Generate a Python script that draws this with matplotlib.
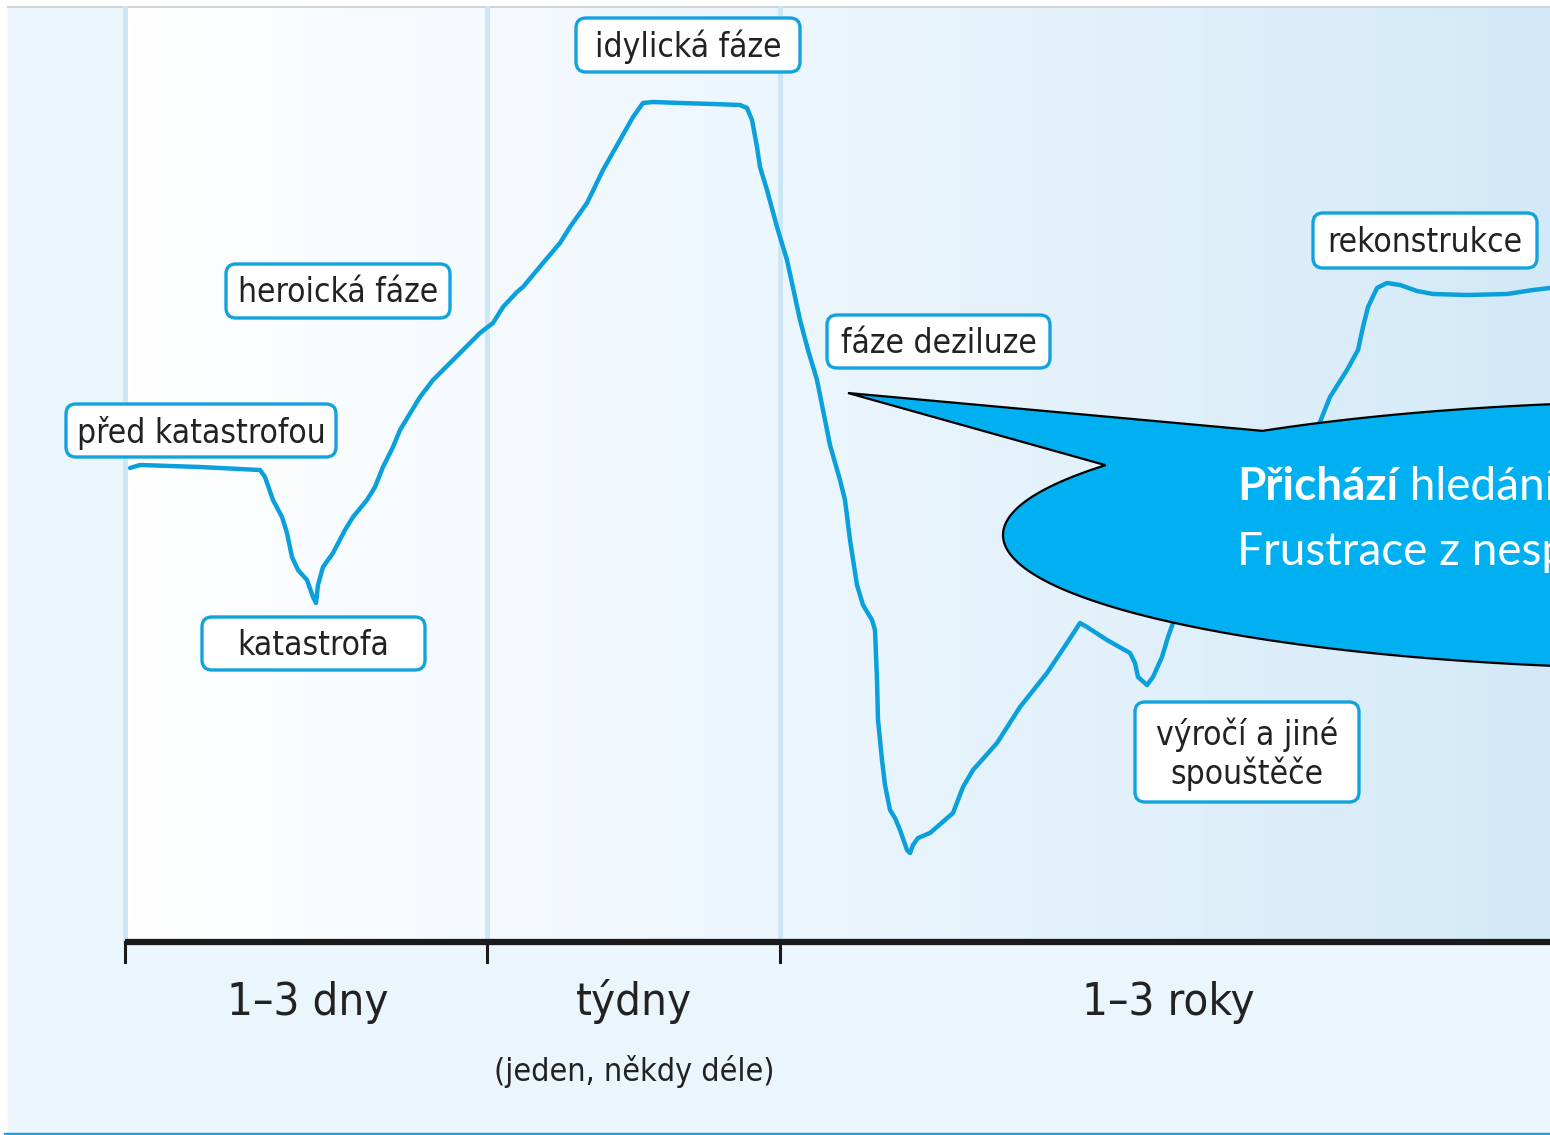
import numpy as np
import matplotlib
matplotlib.use("Agg")
import matplotlib.pyplot as plt
from matplotlib import font_manager
from matplotlib.patches import FancyBboxPatch, Rectangle, Polygon
from matplotlib.colors import LinearSegmentedColormap

# hand-drawn curve, traced in picture pixels (x right, y down)
curve_x = [130, 140, 200, 260, 265, 273, 282, 287, 292, 298, 307, 313, 316, 318, 323,
           333, 345, 353, 367, 375, 383, 393, 400, 420, 433, 460, 480, 493, 503, 517,
           523, 543, 560, 570, 587, 603, 620, 633, 643, 653, 680, 713, 740, 747, 752,
           757, 760, 767, 777, 787, 800, 808, 817, 823, 830, 840, 845, 850, 857, 863,
           872, 875, 877, 878, 882, 885, 890, 895, 900, 907, 910, 913, 918, 930, 953,
           963, 973, 997, 1020, 1047, 1067, 1080, 1087, 1107, 1130, 1135, 1138, 1147,
           1153, 1162, 1168, 1173, 1250, 1320, 1330, 1347, 1358, 1363, 1368, 1377,
           1387, 1400, 1417, 1433, 1467, 1507, 1533, 1550]
curve_y = [468, 465, 467, 470, 477, 500, 517, 533, 557, 570, 580, 597, 603, 585, 567,
           553, 530, 517, 500, 487, 467, 447, 430, 397, 380, 353, 333, 323, 307, 292,
           287, 263, 243, 227, 203, 170, 140, 117, 103, 102, 103, 104, 105, 108, 120,
           147, 167, 190, 227, 260, 320, 350, 380, 410, 445, 480, 500, 540, 585, 605,
           620, 630, 680, 720, 760, 785, 810, 818, 830, 850, 853, 845, 838, 833, 813,
           787, 770, 743, 707, 673, 643, 623, 627, 640, 653, 663, 677, 685,
           677, 657, 637, 623, 520, 422, 397, 370, 350, 327, 307, 288,
           283, 285, 291, 294, 295, 294, 290, 288]

phase_labels = ["před katastrofou", "heroická fáze", "katastrofa", "idylická fáze",
                "fáze deziluze", "rekonstrukce", "výročí a jiné\nspouštěče"]
phase_boxes = [(66, 404, 270, 53), (226, 264, 224, 54), (202, 617, 223, 53),
               (576, 18, 224, 54), (827, 315, 223, 53), (1313, 213, 224, 55),
               (1135, 702, 224, 100)]

period_labels = ["1–3 dny", "týdny", "1–3 roky"]
period_centers = [308, 634, 1168]
period_edges = [125, 487, 780]
period_note = "(jeden, někdy déle)"

bubble_bold = "Přichází"
bubble_rest = " hledání smyslu"
bubble_line2 = "Frustrace z nesplněných očekávání"


def pick_narrow():
    # prefer a condensed face if one is installed
    for fam in ["Liberation Sans Narrow", "DejaVu Sans", "Noto Sans", "Open Sans", "Roboto"]:
        fp = font_manager.FontProperties(family=fam, stretch="condensed")
        try:
            path = font_manager.findfont(fp, fallback_to_default=False)
        except Exception:
            continue
        low = path.lower()
        if "condensed" in low or "narrow" in low:
            return fam, "condensed"
    return "DejaVu Sans", "normal"


narrow_family, narrow_stretch = pick_narrow()
blue_line = "#0aa0dc"
box_edge = "#12a2de"
ink = "#222222"

fig = plt.figure(figsize=(15.5, 11.35), dpi=100)
ax = fig.add_axes([0, 0, 1, 1])
ax.set_xlim(0, 1550)
ax.set_ylim(1135, 0)
ax.axis("off")
renderer = fig.canvas.get_renderer()


def fit_size(s, target_px):
    t = fig.text(0, 0, s, family=narrow_family, stretch=narrow_stretch, fontsize=30)
    w = t.get_window_extent(renderer=renderer).width
    t.remove()
    return 30 * target_px / w


label_size = fit_size("heroická fáze", 200)
period_size = fit_size("1–3 roky", 172)
note_size = fit_size(period_note, 280)

# backgrounds
ax.add_patch(Rectangle((8, 8), 1542, 1124, color="#eaf5fc", zorder=0))
grad = LinearSegmentedColormap.from_list(
    "bg", [(0, "#ffffff"), (0.25, "#f5fafe"), (0.46, "#ecf6fd"), (0.68, "#e3f1fb"), (1, "#d3e9f7")])
ax.imshow(np.linspace(0, 1, 400)[None, :], cmap=grad, aspect="auto",
          extent=[125, 1550, 942, 8], zorder=0.5)
ax.plot([8, 1550], [7, 7], color="#d0d4d8", lw=1.5, zorder=1)
ax.plot([5, 1550], [1133.5, 1133.5], color="#1aa3e0", lw=2.5, zorder=1)

for xe in period_edges:
    ax.plot([xe, xe], [8, 942], color="#cce6f6", lw=3.5, zorder=1)

# time axis
ax.plot([125, 1550], [942, 942], color="#1a1a1a", lw=4.5, zorder=3, solid_capstyle="butt")
for xe in period_edges:
    ax.plot([xe, xe], [942, 962], color="#1a1a1a", lw=2.2, zorder=3)
for lab, xc in zip(period_labels, period_centers):
    ax.text(xc, 1002, lab, family=narrow_family, stretch=narrow_stretch, fontsize=period_size,
            color=ink, ha="center", va="center", zorder=4)
ax.text(634, 1071, period_note, family=narrow_family, stretch=narrow_stretch, fontsize=note_size,
        color=ink, ha="center", va="center", zorder=4)

# curve
ax.plot(curve_x, curve_y, color=blue_line, lw=3.2, zorder=2,
        solid_joinstyle="round", solid_capstyle="round")

# phase label boxes
for lab, (bx, by, bw, bh) in zip(phase_labels, phase_boxes):
    ax.add_patch(FancyBboxPatch((bx, by), bw, bh, boxstyle="round,pad=0,rounding_size=10",
                                facecolor="white", edgecolor=box_edge, lw=2.4, zorder=5))
    ax.text(bx + bw / 2, by + bh / 2 + 2, lab, family=narrow_family, stretch=narrow_stretch,
            fontsize=label_size, color=ink, ha="center", va="center", linespacing=1.15, zorder=6)

# speech bubble
cx, cy, rx, ry = 1703, 535, 700, 134
theta = np.radians(np.linspace(231, 571.4, 400))
ex = cx + rx * np.cos(theta)
ey = cy + ry * np.sin(theta)
pts = np.vstack([[848, 393], np.column_stack([ex, ey]), [848, 393]])
ax.add_patch(Polygon(pts, closed=True, facecolor="#00b0f0", edgecolor="black", lw=1.6,
                     joinstyle="miter", zorder=7))

t1 = ax.text(1237, 500, bubble_bold, family=["Lato", "DejaVu Sans"], fontweight="bold",
             fontsize=33, color="white", va="baseline", ha="left", zorder=8)
bb = t1.get_window_extent(renderer=renderer)
x_end = ax.transData.inverted().transform((bb.x1, bb.y0))[0]
ax.text(x_end, 500, bubble_rest, family=["Lato", "DejaVu Sans"], fontsize=33,
        color="white", va="baseline", ha="left", zorder=8)
ax.text(1237, 565, bubble_line2, family=["Lato", "DejaVu Sans"], fontsize=33,
        color="white", va="baseline", ha="left", zorder=8)

fig.savefig("out.png", dpi=100)
